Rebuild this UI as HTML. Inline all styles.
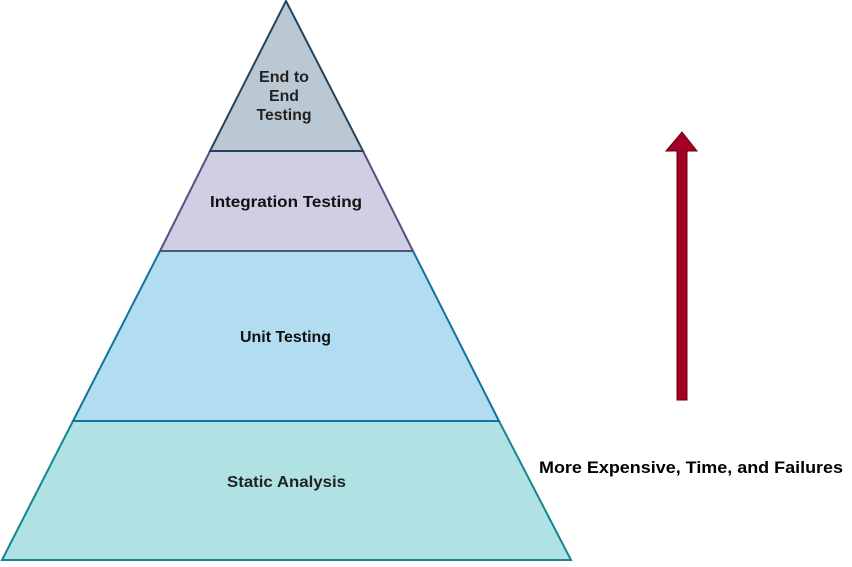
<!DOCTYPE html>
<html><head><style>body{margin:0;background:#fff;width:852px;height:562px;overflow:hidden}
text{font-family:"Liberation Sans",Arial,Helvetica,sans-serif;font-weight:bold}</style></head>
<body>
<svg width="852" height="562" xmlns="http://www.w3.org/2000/svg" font-size="16" text-anchor="middle">
<polygon points="2,560 571,560 499,421 73,421" fill="#b0e2e4" stroke="#13868f" stroke-width="2"/>
<polygon points="73,421 499,421 413,251 160,251" fill="#b2dcef" stroke="#10739e" stroke-width="2"/>
<polygon points="160,251 413,251 363,151 210,151" fill="#d0cee2" stroke="#56517e" stroke-width="2"/>
<polygon points="210,151 363,151 286,1" fill="#bac8d3" stroke="#23445d" stroke-width="2"/>
<text x="284" y="82" fill="#222" textLength="50" lengthAdjust="spacingAndGlyphs">End to</text>
<text x="284" y="101" fill="#222" textLength="30" lengthAdjust="spacingAndGlyphs">End</text>
<text x="284" y="120" fill="#222" textLength="55" lengthAdjust="spacingAndGlyphs">Testing</text>
<text x="286" y="207" fill="#111" textLength="152" lengthAdjust="spacingAndGlyphs">Integration Testing</text>
<text x="285.5" y="342" fill="#111" textLength="91" lengthAdjust="spacingAndGlyphs">Unit Testing</text>
<text x="286.5" y="487" fill="#222" textLength="119" lengthAdjust="spacingAndGlyphs">Static Analysis</text>
<text x="691" y="473" font-size="17" fill="#000" textLength="304" lengthAdjust="spacingAndGlyphs">More Expensive, Time, and Failures</text>
<polygon points="677,400 687,400 687,151 697,151 682,132 666,151 677,151" fill="#a20025" stroke="#6f0000" stroke-width="1"/>
</svg>
</body></html>
